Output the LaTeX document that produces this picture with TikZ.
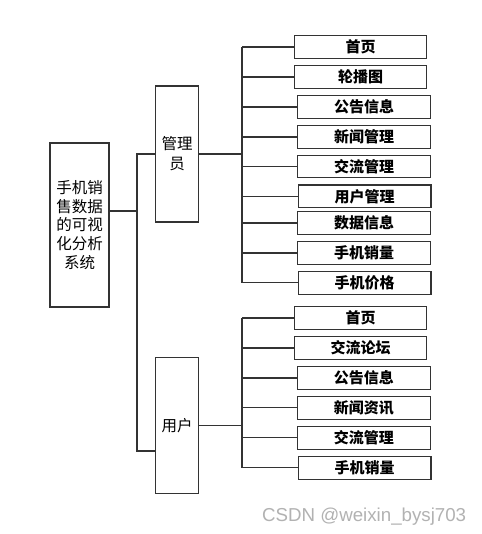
\documentclass[tikz,border=0pt]{standalone}
\usepackage{fontspec}
\newfontfamily\cjk{Noto Sans CJK SC}
\setsansfont{Liberation Sans}
\begin{document}
\begin{tikzpicture}[x=1pt,y=-1pt,
  box/.style={draw=black!80,line width=1.1pt,inner sep=0pt,font=\cjk\fontsize{15}{19}\selectfont,align=center},
  leaf/.style={box,minimum width=132.5pt,minimum height=22.5pt,font=\cjk\bfseries\fontsize{15}{19}\selectfont},
  conn/.style={draw=black!80,line width=1.1pt}]
\useasboundingbox (0,0) rectangle (481,534);
\fill[white] (0,0) rectangle (481,534);
% main boxes
\node[box,minimum width=59pt,minimum height=164pt,font=\cjk\fontsize{15.5}{18.9}\selectfont] (root) at (79.5,225) {手机销\\售数据\\的可视\\化分析\\系统};
\node[box,minimum width=42.5pt,minimum height=136pt,font=\cjk\fontsize{15.5}{20}\selectfont] (admin) at (177,154) {管理\\员};
\node[box,minimum width=42.5pt,minimum height=135.5pt,font=\cjk\fontsize{15.5}{19}\selectfont] (user) at (177,425.5) {用户};
% admin children
\node[leaf] (a1) at (360.5,47) {首页};
\node[leaf] (a2) at (360.5,77) {轮播图};
\node[leaf,minimum width=133pt] (a3) at (364.2,107) {公告信息};
\node[leaf,minimum width=133pt] (a4) at (364.2,137) {新闻管理};
\node[leaf,minimum width=133pt] (a5) at (364.2,166.7) {交流管理};
\node[leaf] (a6) at (364.7,196.3) {用户管理};
\node[leaf,minimum width=133pt] (a7) at (364.2,223) {数据信息};
\node[leaf,minimum width=133pt] (a8) at (364.2,253) {手机销量};
\node[leaf,minimum height=23pt] (a9) at (364.7,282.8) {手机价格};
% user children
\node[leaf] (u1) at (360.5,318) {首页};
\node[leaf] (u2) at (360.5,348) {交流论坛};
\node[leaf] (u3) at (363.9,378) {公告信息};
\node[leaf] (u4) at (363.9,407.8) {新闻资讯};
\node[leaf] (u5) at (363.9,437.8) {交流管理};
\node[leaf] (u6) at (364.7,467.8) {手机销量};
% junctions
\coordinate (j1) at (137,211);
\coordinate (uin) at (user.west |- 0,451);
\coordinate (abus) at (242,154);
\coordinate (ubus) at (242,425.5);
% connectors root
\draw[conn] (root.east |- j1) -- (j1);
\draw[conn] (j1) |- (admin.west);
\draw[conn] (j1) |- (uin);
% admin bus
\draw[conn] (admin.east) -- (abus);
\draw[conn] (abus |- a1.west) -- (abus |- a9.west);
\foreach \n in {a1,a2,a3,a4,a5,a6,a7,a8,a9}
  \draw[conn] (abus |- \n.west) -- (\n.west);
% user bus
\draw[conn] (user.east) -- (ubus);
\draw[conn] (ubus |- u1.west) -- (ubus |- u6.west);
\foreach \n in {u1,u2,u3,u4,u5,u6}
  \draw[conn] (ubus |- \n.west) -- (\n.west);
% watermark
\node[anchor=base west,inner sep=0pt,text=black!30,font=\sffamily\fontsize{18.7}{22}\selectfont] (wm) at (262,521) {CSDN @weixin\_bysj703};
\end{tikzpicture}
\end{document}
